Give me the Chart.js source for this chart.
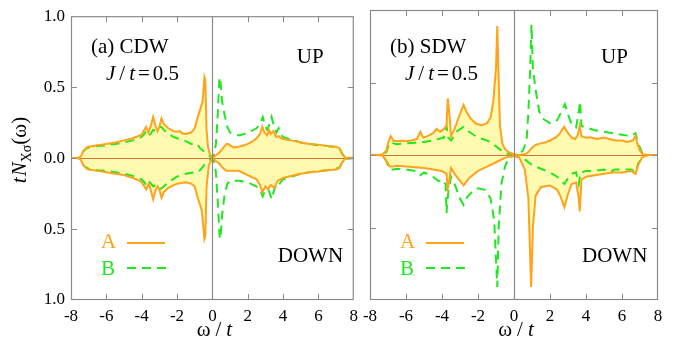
<!DOCTYPE html>
<html>
<head>
<meta charset="utf-8">
<script src="https://cdn.jsdelivr.net/npm/chart.js@4.4.0/dist/chart.umd.min.js"></script>
<style>
html, body { margin: 0; padding: 0; background: #fff; }
#wrap { position: relative; width: 694px; height: 348px; font-family: "Liberation Serif"; }
#left { position: absolute; left: 0; top: 0; }
#right { position: absolute; left: 344px; top: 0; }
.warm { position: absolute; left: -999px; top: 0; font-family: "Liberation Serif"; }
</style>
</head>
<body>
<div id="wrap">
<span class="warm">A</span><span class="warm"><i>t</i></span>
<canvas id="left" width="364" height="348"></canvas>
<canvas id="right" width="350" height="348"></canvas>
</div>
<script>
// [omega/t, t*N] pairs; DOWN values stored as magnitudes
var cdwAUp = [[-8,0],[-7.6,0],[-7.45,0.01],[-7.3,0.05],[-7.1,0.075],[-7,0.08],[-6.5,0.09],[-6,0.1],[-5.5,0.11],[-5,0.125],[-4.5,0.14],[-4.2,0.155],[-4,0.165],[-3.85,0.2],[-3.75,0.22],[-3.62,0.18],[-3.5,0.22],[-3.35,0.29],[-3.2,0.22],[-3.1,0.19],[-3,0.22],[-2.88,0.28],[-2.75,0.24],[-2.5,0.21],[-2.2,0.19],[-2,0.185],[-1.85,0.19],[-1.7,0.175],[-1.5,0.17],[-1.2,0.18],[-1,0.21],[-0.85,0.28],[-0.7,0.34],[-0.55,0.4],[-0.45,0.57],[-0.4,0.55],[-0.33,0.2],[-0.25,0.08],[-0.15,0.03],[0,0],[0.2,0.02],[0.4,0.04],[0.6,0.07],[0.8,0.1],[0.9,0.1],[1,0.09],[1.2,0.075],[1.5,0.08],[1.8,0.09],[2,0.1],[2.3,0.12],[2.5,0.14],[2.7,0.17],[2.82,0.22],[2.95,0.18],[3.1,0.16],[3.2,0.2],[3.3,0.17],[3.45,0.19],[3.6,0.15],[3.75,0.155],[3.9,0.14],[4.2,0.13],[4.5,0.125],[5,0.11],[5.5,0.1],[6,0.095],[6.5,0.085],[7,0.08],[7.2,0.07],[7.35,0.03],[7.5,0.005],[8,0]];
var cdwBUp = [[-8,0],[-7.6,0],[-7.45,0.01],[-7.3,0.05],[-7.1,0.07],[-7,0.075],[-6.5,0.085],[-6,0.09],[-5.5,0.1],[-5,0.11],[-4.5,0.125],[-4.2,0.135],[-4,0.15],[-3.85,0.17],[-3.75,0.19],[-3.62,0.16],[-3.5,0.17],[-3.35,0.2],[-3.2,0.19],[-3.1,0.2],[-3,0.22],[-2.88,0.22],[-2.75,0.2],[-2.5,0.17],[-2.2,0.15],[-2,0.14],[-1.8,0.13],[-1.5,0.12],[-1.2,0.1],[-1,0.1],[-0.85,0.1],[-0.7,0.07],[-0.5,0.05],[-0.3,0.03],[-0.1,0.01],[0,0],[0.1,0.03],[0.2,0.1],[0.3,0.3],[0.4,0.57],[0.45,0.55],[0.55,0.4],[0.7,0.3],[0.85,0.22],[1,0.18],[1.2,0.17],[1.5,0.16],[1.8,0.17],[2,0.18],[2.2,0.19],[2.5,0.21],[2.7,0.24],[2.85,0.29],[3,0.22],[3.1,0.2],[3.2,0.23],[3.35,0.29],[3.5,0.22],[3.62,0.18],[3.75,0.21],[3.85,0.17],[4,0.15],[4.2,0.14],[4.5,0.13],[5,0.11],[5.5,0.1],[6,0.09],[6.5,0.085],[7,0.075],[7.2,0.065],[7.35,0.03],[7.5,0.005],[8,0]];
var cdwADown = [[-8,0],[-7.6,0],[-7.45,0.01],[-7.3,0.05],[-7.1,0.075],[-7,0.08],[-6.5,0.09],[-6,0.1],[-5.5,0.11],[-5,0.12],[-4.5,0.14],[-4.2,0.155],[-4,0.17],[-3.85,0.2],[-3.75,0.22],[-3.6,0.18],[-3.5,0.22],[-3.35,0.29],[-3.2,0.22],[-3.1,0.2],[-3,0.22],[-2.88,0.28],[-2.75,0.24],[-2.5,0.21],[-2,0.18],[-1.5,0.17],[-1.2,0.18],[-1,0.2],[-0.85,0.27],[-0.6,0.37],[-0.45,0.57],[-0.4,0.55],[-0.33,0.2],[-0.2,0.05],[0,0],[0.2,0.02],[0.4,0.04],[0.6,0.07],[0.8,0.09],[1,0.09],[1.5,0.09],[2,0.12],[2.5,0.15],[2.7,0.19],[2.82,0.24],[3,0.2],[3.15,0.22],[3.3,0.19],[3.5,0.21],[3.7,0.16],[4,0.14],[4.5,0.125],[5,0.11],[5.5,0.1],[6,0.095],[6.5,0.085],[7,0.08],[7.2,0.07],[7.35,0.03],[7.5,0.005],[8,0]];
var cdwBDown = [[-8,0],[-7.6,0],[-7.45,0.01],[-7.3,0.05],[-7.1,0.07],[-7,0.075],[-6.5,0.085],[-6,0.09],[-5,0.11],[-4.5,0.125],[-4,0.15],[-3.85,0.17],[-3.75,0.19],[-3.6,0.16],[-3.35,0.2],[-3.2,0.19],[-3,0.22],[-2.85,0.21],[-2.5,0.17],[-2,0.13],[-1.5,0.11],[-1,0.1],[-0.8,0.1],[-0.6,0.07],[-0.4,0.04],[-0.2,0.02],[0,0],[0.1,0.03],[0.2,0.1],[0.3,0.3],[0.42,0.57],[0.47,0.55],[0.55,0.4],[0.7,0.25],[0.85,0.18],[1,0.16],[1.5,0.16],[2,0.17],[2.5,0.2],[2.7,0.23],[2.85,0.27],[3,0.22],[3.2,0.23],[3.35,0.29],[3.5,0.22],[3.62,0.19],[3.75,0.2],[3.85,0.17],[4,0.15],[4.5,0.13],[5,0.11],[5.5,0.1],[6,0.09],[6.5,0.085],[7,0.075],[7.2,0.065],[7.35,0.03],[7.5,0.005],[8,0]];

var sdwAUp = [[-8,0],[-7.5,0],[-7.3,0.005],[-7.1,0.03],[-6.95,0.1],[-6.85,0.13],[-6.7,0.1],[-6.5,0.095],[-6.2,0.1],[-6,0.095],[-5.7,0.1],[-5.4,0.11],[-5.2,0.16],[-5.05,0.12],[-4.8,0.13],[-4.5,0.15],[-4.3,0.18],[-4.1,0.16],[-3.9,0.18],[-3.75,0.2],[-3.68,0.39],[-3.6,0.3],[-3.5,0.13],[-3.3,0.18],[-3.1,0.25],[-2.95,0.3],[-2.8,0.345],[-2.65,0.3],[-2.4,0.25],[-2.1,0.215],[-1.8,0.205],[-1.5,0.22],[-1.3,0.26],[-1.15,0.37],[-1,0.6],[-0.93,0.89],[-0.85,0.5],[-0.78,0.2],[-0.65,0.08],[-0.5,0.04],[-0.3,0.02],[0,0.005],[0.3,0],[0.6,0.005],[0.8,0.02],[1,0.05],[1.2,0.07],[1.5,0.08],[1.8,0.09],[2,0.1],[2.3,0.12],[2.5,0.14],[2.7,0.18],[2.8,0.195],[2.95,0.16],[3.2,0.12],[3.4,0.11],[3.55,0.14],[3.65,0.2],[3.75,0.13],[4,0.12],[4.3,0.12],[4.6,0.11],[5,0.12],[5.3,0.11],[5.6,0.1],[6,0.1],[6.3,0.09],[6.6,0.1],[6.75,0.13],[6.85,0.08],[7,0.03],[7.15,0.005],[7.5,0],[8,0]];
var sdwBUp = [[-8,0],[-7.5,0],[-7.3,0.005],[-7.1,0.02],[-6.95,0.07],[-6.85,0.09],[-6.7,0.08],[-6.5,0.075],[-6,0.08],[-5.5,0.085],[-5,0.09],[-4.5,0.1],[-4.2,0.11],[-3.9,0.12],[-3.75,0.2],[-3.65,0.12],[-3.5,0.1],[-3.2,0.16],[-2.8,0.195],[-2.5,0.16],[-2,0.12],[-1.5,0.1],[-1.2,0.08],[-1,0.06],[-0.7,0.03],[-0.4,0.01],[0,0.005],[0.3,0.01],[0.5,0.03],[0.7,0.1],[0.8,0.3],[0.9,0.6],[0.97,0.9],[1.05,0.6],[1.2,0.45],[1.4,0.3],[1.6,0.25],[2,0.22],[2.4,0.24],[2.6,0.29],[2.83,0.35],[3,0.28],[3.2,0.21],[3.45,0.19],[3.6,0.3],[3.67,0.37],[3.75,0.2],[4,0.19],[4.5,0.17],[5,0.16],[5.5,0.15],[6,0.14],[6.5,0.13],[6.75,0.15],[6.9,0.08],[7.1,0.02],[7.3,0.005],[7.5,0],[8,0]];
var sdwADown = [[-8,0],[-7.5,0],[-7.3,0.005],[-7.1,0.04],[-6.9,0.08],[-6.7,0.08],[-6.5,0.075],[-6,0.08],[-5.5,0.085],[-5,0.09],[-4.5,0.1],[-4,0.11],[-3.75,0.13],[-3.68,0.23],[-3.6,0.18],[-3.5,0.09],[-3.3,0.13],[-2.8,0.21],[-2.5,0.16],[-2,0.11],[-1.5,0.08],[-1,0.05],[-0.5,0.02],[0,0.005],[0.3,0.02],[0.6,0.1],[0.8,0.3],[0.95,0.91],[1.05,0.5],[1.2,0.28],[1.5,0.22],[2,0.21],[2.4,0.24],[2.6,0.29],[2.8,0.36],[3,0.27],[3.2,0.2],[3.45,0.19],[3.6,0.3],[3.65,0.39],[3.75,0.17],[4,0.15],[4.5,0.14],[5,0.13],[5.5,0.12],[6,0.12],[6.5,0.11],[6.75,0.13],[6.9,0.07],[7.1,0.02],[7.3,0.005],[7.5,0],[8,0]];
var sdwBDown = [[-8,0],[-7.5,0],[-7.3,0.005],[-7.1,0.04],[-6.9,0.1],[-6.7,0.1],[-6.5,0.095],[-6,0.1],[-5.5,0.11],[-5.2,0.14],[-5,0.12],[-4.5,0.15],[-4.2,0.18],[-4,0.17],[-3.8,0.2],[-3.75,0.4],[-3.65,0.25],[-3.5,0.15],[-3.3,0.2],[-3,0.3],[-2.8,0.345],[-2.6,0.29],[-2.3,0.25],[-2,0.23],[-1.6,0.24],[-1.3,0.3],[-1.1,0.45],[-0.93,0.91],[-0.85,0.5],[-0.7,0.2],[-0.5,0.08],[-0.3,0.02],[0,0.005],[0.3,0.01],[0.6,0.03],[0.9,0.06],[1.2,0.08],[1.6,0.1],[2,0.12],[2.4,0.15],[2.8,0.2],[3,0.16],[3.2,0.13],[3.45,0.12],[3.6,0.2],[3.7,0.12],[4,0.11],[4.5,0.11],[5,0.1],[5.3,0.12],[5.6,0.1],[6,0.1],[6.5,0.1],[6.75,0.12],[6.9,0.06],[7.1,0.02],[7.3,0.005],[7.5,0],[8,0]];

var xTicks = [-8, -6, -4, -2, 0, 2, 4, 6, 8];
var yTicks = [-1, -0.5, 0, 0.5, 1];

var ORANGE = '#ffa31a';
var GREEN = '#1fe81f';
var FILL = '#fffab0';
var FRAME = '#8a8a8a';
var SERIF = "'Liberation Serif', serif";

function pts(arr, sign) {
    return arr.map(function(p) { return { x: p[0], y: sign * p[1] }; });
}

// draws a run of text pieces, some italic or subscript
function drawRuns(ctx, x, y, runs, align) {
    var total = 0;
    runs.forEach(function(r) {
        ctx.font = (r.i ? 'italic ' : '') + (r.s || 21) + 'px ' + SERIF;
        r.w = ctx.measureText(r.t).width + (r.gap || 0);
        total += r.w;
    });
    var cx = align === 'center' ? x - total / 2 : x;
    runs.forEach(function(r) {
        ctx.font = (r.i ? 'italic ' : '') + (r.s || 21) + 'px ' + SERIF;
        ctx.fillText(r.t, cx, y + (r.dy || 0));
        cx += r.w;
    });
}

function decor(label, showY) {
    return {
        id: 'decor',
        beforeDatasetsDraw: function(chart) {
            var ctx = chart.ctx, a = chart.chartArea, ys = chart.scales.y;
            ctx.save();
            ctx.strokeStyle = '#d2733c';
            ctx.lineWidth = 1;
            var y0 = Math.round(ys.getPixelForValue(0)) + 0.5;
            ctx.beginPath(); ctx.moveTo(a.left, y0); ctx.lineTo(a.right, y0); ctx.stroke();
            ctx.restore();
        },
        afterDatasetsDraw: function(chart) {
            var ctx = chart.ctx, a = chart.chartArea, xs = chart.scales.x, ys = chart.scales.y;
            ctx.save();
            ctx.strokeStyle = FRAME;
            ctx.lineWidth = 1.2;
            var x0 = Math.round(xs.getPixelForValue(0)) + 0.5;
            ctx.beginPath(); ctx.moveTo(x0, a.top); ctx.lineTo(x0, a.bottom); ctx.stroke();
            ctx.strokeRect(a.left + 0.5, a.top + 0.5, a.right - a.left - 1, a.bottom - a.top - 1);
            ctx.lineWidth = 1;
            ctx.beginPath();
            xTicks.forEach(function(v) {
                if (v === -8 || v === 8 || v === 0) return;
                var px = Math.round(xs.getPixelForValue(v)) + 0.5;
                ctx.moveTo(px, a.top); ctx.lineTo(px, a.top + 6);
                ctx.moveTo(px, a.bottom); ctx.lineTo(px, a.bottom - 6);
            });
            yTicks.forEach(function(v) {
                if (v === -1 || v === 1) return;
                var py = Math.round(ys.getPixelForValue(v)) + 0.5;
                ctx.moveTo(a.left, py); ctx.lineTo(a.left + 6, py);
                ctx.moveTo(a.right, py); ctx.lineTo(a.right - 6, py);
            });
            ctx.stroke();

            // panel texts
            ctx.fillStyle = '#000';
            ctx.textBaseline = 'alphabetic';
            var L = a.left;
            drawRuns(ctx, L + 20, 53, [{ t: label }]);
            drawRuns(ctx, L + 35, 80, [{ t: 'J', i: true, gap: 4 }, { t: '/', gap: 4 }, { t: 't', i: true, gap: 3 }, { t: '=', gap: 3 }, { t: '0.5' }]);
            drawRuns(ctx, a.right - 57, 63, [{ t: 'UP' }]);
            drawRuns(ctx, a.right - 76, 262, [{ t: 'DOWN' }]);

            // legend
            ctx.fillStyle = ORANGE;
            drawRuns(ctx, L + 30, 248, [{ t: 'A' }]);
            ctx.fillStyle = GREEN;
            drawRuns(ctx, L + 30, 275, [{ t: 'B' }]);
            ctx.lineWidth = 2;
            ctx.strokeStyle = ORANGE;
            ctx.beginPath(); ctx.moveTo(L + 56, 243); ctx.lineTo(L + 94, 243); ctx.stroke();
            ctx.strokeStyle = GREEN;
            ctx.setLineDash([9, 6]);
            ctx.beginPath(); ctx.moveTo(L + 56, 268); ctx.lineTo(L + 96, 268); ctx.stroke();
            ctx.setLineDash([]);

            // axis titles
            ctx.fillStyle = '#000';
            drawRuns(ctx, (a.left + a.right) / 2 + 2, 336, [{ t: 'ω', gap: 5 }, { t: '/', gap: 5 }, { t: 't', i: true }], 'center');
            if (showY) {
                ctx.save();
                ctx.translate(26, 150);
                ctx.rotate(-Math.PI / 2);
                drawRuns(ctx, 0, 0, [{ t: 't', i: true, gap: 1 }, { t: 'N', i: true }, { t: 'Xσ', s: 14, dy: 5 }, { t: '(ω)' }], 'center');
                ctx.restore();
            }
            ctx.restore();
        }
    };
}

function makePanel(id, aUp, bUp, aDown, bDown, label, isLeft) {
    var ctx = document.getElementById(id).getContext('2d');
    return new Chart(ctx, {
        type: 'line',
        data: {
            datasets: [
                { data: pts(aUp, 1), borderColor: ORANGE, backgroundColor: FILL, fill: 'origin' },
                { data: pts(aDown, -1), borderColor: ORANGE, backgroundColor: FILL, fill: 'origin' },
                { data: pts(bUp, 1), borderColor: GREEN, borderDash: [9, 6], fill: false },
                { data: pts(bDown, -1), borderColor: GREEN, borderDash: [9, 6], fill: false }
            ]
        },
        options: {
            responsive: false,
            animation: false,
            layout: { padding: isLeft ? { top: 10, right: 6, left: 0, bottom: 0 } : { top: 10, right: 36, left: 26, bottom: 0 } },
            elements: { point: { radius: 0 }, line: { tension: 0, borderWidth: 2 } },
            plugins: {
                legend: { display: false },
                tooltip: { enabled: false },
                filler: { drawTime: 'beforeDatasetsDraw' }
            },
            scales: {
                x: {
                    type: 'linear', min: -8, max: 8,
                    afterBuildTicks: function(s) { s.ticks = xTicks.map(function(v) { return { value: v }; }); },
                    ticks: { color: '#000', font: { family: SERIF, size: 17 }, padding: 6, maxRotation: 0, autoSkip: false },
                    grid: { display: false, drawTicks: false },
                    border: { display: false },
                    afterFit: function(s) { s.height = 48; }
                },
                y: {
                    type: 'linear', min: -1, max: 1, display: isLeft,
                    afterBuildTicks: function(s) { s.ticks = yTicks.map(function(v) { return { value: v }; }); },
                    ticks: { color: '#000', font: { family: SERIF, size: 17 }, padding: 6,
                        callback: function(v) { return Math.abs(v).toFixed(1); } },
                    grid: { display: false, drawTicks: false },
                    border: { display: false },
                    afterFit: function(s) { s.width = isLeft ? 71 : 0; }
                }
            }
        },
        plugins: [decor(label, isLeft)]
    });
}

function drawAll() {
    makePanel('left', cdwAUp, cdwBUp, cdwADown, cdwBDown, '(a) CDW', true);
    makePanel('right', sdwAUp, sdwBUp, sdwADown, sdwBDown, '(b) SDW', false);
}

Promise.all([
    document.fonts.load("21px 'Liberation Serif'"),
    document.fonts.load("italic 21px 'Liberation Serif'")
]).then(drawAll, drawAll);
</script>
</body>
</html>
